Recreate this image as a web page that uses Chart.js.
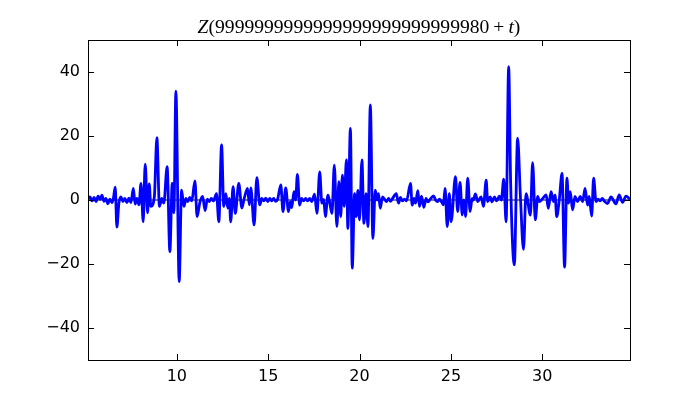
<!DOCTYPE html>
<html>
<head>
<meta charset="utf-8">
<title>Z(t)</title>
<script src="https://cdn.jsdelivr.net/npm/chart.js@4.4.1/dist/chart.umd.min.js"></script>
<style>
  body { margin: 0; background: #fff; }
  #wrap { width: 700px; height: 400px; }
</style>
</head>
<body>
<div id="wrap"><canvas id="zChart" width="700" height="400"></canvas></div>
<script>
// t values (mostly at the local peaks and dips)
const tValues = [
    5.14, 5.25, 5.36, 5.47, 5.58, 5.69, 5.80, 5.90, 6.01, 6.12,
    6.23, 6.34, 6.45, 6.53, 6.63, 6.72, 6.83, 6.94, 7.05, 7.16,
    7.27, 7.38, 7.49, 7.62, 7.72, 7.82, 7.93, 8.04, 8.16, 8.27,
    8.40, 8.49, 8.58, 8.77, 8.91, 9.05, 9.18, 9.29, 9.47, 9.62,
    9.75, 9.84, 9.95, 10.13, 10.26, 10.39, 10.50, 10.60, 10.71, 10.82,
    10.99, 11.11, 11.26, 11.41, 11.55, 11.67, 11.78, 11.89, 12.00, 12.17,
    12.30, 12.45, 12.57, 12.68, 12.79, 12.87, 12.95, 13.08, 13.20, 13.39,
    13.56, 13.69, 13.87, 13.97, 14.05, 14.23, 14.38, 14.54, 14.65, 14.76,
    14.87, 14.98, 15.09, 15.19, 15.30, 15.41, 15.52, 15.69, 15.81, 15.96,
    16.11, 16.21, 16.29, 16.41, 16.50, 16.60, 16.72, 16.83, 16.94, 17.05,
    17.16, 17.27, 17.38, 17.54, 17.67, 17.82, 17.94, 18.04, 18.13, 18.27,
    18.36, 18.49, 18.62, 18.76, 18.87, 18.97, 19.06, 19.16, 19.28, 19.36,
    19.50, 19.60, 19.73, 19.82, 19.91, 20.00, 20.13, 20.24, 20.36, 20.46,
    20.59, 20.73, 20.86, 20.96, 21.04, 21.13, 21.26, 21.40, 21.48, 21.59,
    21.70, 21.81, 22.01, 22.13, 22.24, 22.35, 22.46, 22.57, 22.79, 22.88,
    22.98, 23.06, 23.19, 23.28, 23.39, 23.52, 23.64, 23.75, 23.86, 24.05,
    24.16, 24.27, 24.37, 24.48, 24.59, 24.68, 24.80, 24.91, 25.01, 25.25,
    25.37, 25.50, 25.62, 25.71, 25.80, 25.92, 26.05, 26.16, 26.23, 26.34,
    26.47, 26.65, 26.78, 26.93, 27.01, 27.15, 27.25, 27.38, 27.51, 27.65,
    27.76, 27.89, 28.02, 28.16, 28.27, 28.47, 28.65, 28.80, 28.97, 29.11,
    29.35, 29.47, 29.62, 29.75, 29.84, 30.00, 30.21, 30.33, 30.48, 30.62,
    30.70, 30.79, 30.93, 31.08, 31.22, 31.35, 31.44, 31.53, 31.66, 31.79,
    31.93, 32.08, 32.21, 32.34, 32.48, 32.57, 32.70, 32.81, 32.94, 33.06,
    33.17, 33.28, 33.39, 33.57, 33.76, 34.03, 34.21, 34.39, 34.58, 34.80
];

// Z values at those t
const zValues = [
    0.3, 1.0, -0.3, 0.8, -0.5, 1.2, 0.2, 1.5, -0.4, 0.5,
    -1.2, 0.3, -0.8, 0.5, 4.0, -8.5, -1.0, 1.0, -0.5, 0.5,
    -0.8, 0.6, -0.8, 3.6, -1.3, 0.5, -1.5, 5.2, -6.8, 11.2,
    -4.0, 5.0, -2.0, 1.0, 19.5, -2.0, 0.5, -1.0, 10.4, -16.1,
    5.2, -4.0, 34.0, -25.5, 3.1, -2.0, 0.5, -0.5, 0.8, -0.3,
    6.0, -5.2, -0.8, 1.1, -3.3, 0.3, -0.5, 0.5, -0.3, 2.0,
    -6.8, 17.2, -2.0, 2.0, -2.5, 0.5, -6.8, 4.2, -4.2, 5.2,
    -2.5, 0.5, 3.6, -1.5, 3.8, -7.8, 7.0, -1.5, 0.5, -0.3,
    0.6, -0.5, 0.5, -0.3, 0.5, -0.4, 0.3, 4.7, -3.6, 3.8,
    -3.6, -0.5, -2.4, 2.6, 0.0, 8.0, -1.6, 0.5, -0.3, 0.5,
    -0.3, 0.5, -0.5, 1.8, -4.2, 8.8, -1.0, 0.2, -5.2, 1.5,
    -0.5, -4.2, 10.9, -8.3, 5.7, -5.2, 7.8, -2.0, 12.5, -8.9,
    22.4, -21.3, 2.0, -5.2, 3.0, -6.2, 12.5, -7.3, 2.0, -8.3,
    29.7, -12.0, 3.1, 0.0, 2.0, -2.6, 1.0, 0.0, -0.5, 0.5,
    -0.4, 0.5, 2.0, -1.0, 0.8, -0.3, 0.3, -0.3, 5.2, -1.6,
    0.5, -1.0, 2.9, -2.0, 1.2, -2.3, 0.5, -0.6, 0.2, 1.3,
    0.0, -0.5, 0.3, -0.5, -1.5, 3.6, -8.3, 2.0, -6.8, 7.3,
    -3.6, 5.5, -4.7, 0.0, -5.2, 6.8, -3.6, 0.5, 0.0, 1.9,
    -0.5, 1.0, -2.0, 6.2, -0.5, 1.0, -0.6, 1.0, -0.3, 1.2,
    0.0, 6.5, -6.8, 41.7, 5.0, -20.3, 19.3, 1.5, -15.4, 2.0,
    -4.7, 11.7, -6.2, 1.1, -0.5, 0.3, 1.6, -2.6, 2.6, -0.5,
    1.5, -5.2, 0.0, 8.3, -21.0, 6.8, -1.0, 2.6, -3.1, 1.1,
    -0.5, 1.1, -0.5, 3.6, -1.6, 1.1, -5.0, 6.8, -0.5, 0.3,
    -0.3, 0.5, -0.3, -1.1, 1.0, -1.2, 1.6, -0.7, 1.2, 0.2
];

const xTicks = [10, 15, 20, 25, 30];
const yTicks = [-40, -20, 0, 20, 40];
const xLimits = [5.14, 34.8];
const yLimits = [-50, 50];
const titleDigits = '9999999999999999999999999980';

const points = tValues.map((t, i) => ({ x: t, y: zValues[i] }));
const zeroLine = [{ x: xLimits[0], y: 0 }, { x: xLimits[1], y: 0 }];

// frame, inward ticks on all four sides, and the math-style title
const frameAndTitle = {
    id: 'frameAndTitle',
    afterDraw(chart) {
        const { ctx, chartArea: a, scales: { x, y } } = chart;
        ctx.save();
        ctx.strokeStyle = '#000';
        ctx.lineWidth = 1;
        ctx.strokeRect(a.left + 0.5, a.top + 0.5, a.right - a.left, a.bottom - a.top);

        const len = 6;
        ctx.beginPath();
        xTicks.forEach(v => {
            const px = Math.round(x.getPixelForValue(v)) + 0.5;
            ctx.moveTo(px, a.bottom); ctx.lineTo(px, a.bottom - len);
            ctx.moveTo(px, a.top); ctx.lineTo(px, a.top + len);
        });
        yTicks.forEach(v => {
            const py = Math.round(y.getPixelForValue(v)) + 0.5;
            ctx.moveTo(a.left, py); ctx.lineTo(a.left + len, py);
            ctx.moveTo(a.right, py); ctx.lineTo(a.right - len, py);
        });
        ctx.stroke();

        // title pieces: [text, italic, extra space on each side]
        const pieces = [
            ['Z', true, 0], ['(', false, 0], [titleDigits, false, 0],
            ['+', false, 4], ['t', true, 0], [')', false, 0]
        ];
        const fontFor = it => (it ? 'italic ' : '') + '19.6px "Liberation Serif", serif';
        let total = 0;
        pieces.forEach(p => {
            ctx.font = fontFor(p[1]);
            total += ctx.measureText(p[0]).width + 2 * p[2];
        });
        let cx = (a.left + a.right) / 2 - total / 2;
        ctx.fillStyle = '#000';
        ctx.textBaseline = 'alphabetic';
        ctx.textAlign = 'left';
        pieces.forEach(p => {
            ctx.font = fontFor(p[1]);
            cx += p[2];
            ctx.fillText(p[0], cx, 33);
            cx += ctx.measureText(p[0]).width + p[2];
        });
        ctx.restore();
    }
};

const tickFont = { family: 'DejaVu Sans', size: 16 };

new Chart(document.getElementById('zChart').getContext('2d'), {
    type: 'line',
    data: {
        datasets: [
            {
                label: 'Z',
                data: points,
                borderColor: '#0000ff',
                borderWidth: 2.8,
                pointRadius: 0,
                cubicInterpolationMode: 'monotone',
                borderJoinStyle: 'round',
                fill: false,
                order: 1
            },
            {
                label: 'zero',
                data: zeroLine,
                borderColor: '#000',
                borderWidth: 1,
                pointRadius: 0,
                fill: false,
                order: 2
            }
        ]
    },
    options: {
        responsive: false,
        animation: false,
        devicePixelRatio: 1,
        layout: { padding: { top: 40, right: 70, left: 0, bottom: 0 } },
        plugins: {
            legend: { display: false },
            title: { display: false },
            tooltip: { enabled: false }
        },
        scales: {
            x: {
                type: 'linear',
                min: xLimits[0],
                max: xLimits[1],
                grid: { display: false, drawTicks: false },
                border: { display: false },
                afterBuildTicks: s => { s.ticks = xTicks.map(v => ({ value: v })); },
                afterFit: s => { s.height = 40; },
                ticks: {
                    font: tickFont,
                    color: '#000',
                    padding: 7,
                    maxRotation: 0,
                    autoSkip: false
                }
            },
            y: {
                type: 'linear',
                min: yLimits[0],
                max: yLimits[1],
                grid: { display: false, drawTicks: false },
                border: { display: false },
                afterBuildTicks: s => { s.ticks = yTicks.map(v => ({ value: v })); },
                afterFit: s => { s.width = 88; },
                ticks: {
                    font: tickFont,
                    color: '#000',
                    padding: 8,
                    callback: v => (v < 0 ? '\u2212' + Math.abs(v) : String(v))
                }
            }
        }
    },
    plugins: [frameAndTitle]
});
</script>
</body>
</html>
